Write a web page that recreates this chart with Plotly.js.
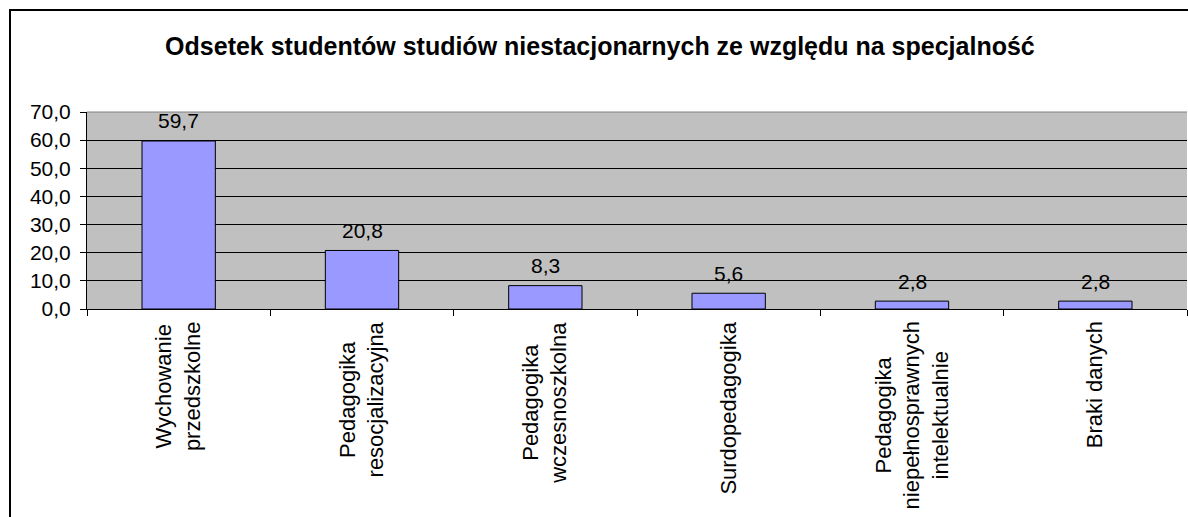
<!DOCTYPE html>
<html>
<head>
<meta charset="utf-8">
<script src="https://cdn.plot.ly/plotly-3.0.1.min.js"></script>
<style>html,body{margin:0;padding:0;background:#fff;}#chart{width:1188px;height:517px;}</style>
</head>
<body>
<div id="chart"></div>
<script>
const categories = ["Wychowanie przedszkolne", "Pedagogika resocjalizacyjna", "Pedagogika wczesnoszkolna", "Surdopedagogika", "Pedagogika niepełnosprawnych intelektualnie", "Braki danych"];
const labelLines = ["Wychowanie<br>przedszkolne", "Pedagogika<br>resocjalizacyjna", "Pedagogika<br>wczesnoszkolna", "Surdopedagogika", "Pedagogika<br>niepełnosprawnych<br>intelektualnie", "Braki danych"];
const values = [59.7, 20.8, 8.3, 5.6, 2.8, 2.8];
const yTicks = [0, 10, 20, 30, 40, 50, 60, 70];
const titleText = "Odsetek studentów studiów niestacjonarnych ze względu na specjalność";

const fmt = v => v.toFixed(1).replace('.', ',');
const FONT = 'Arial, "Liberation Sans", sans-serif';

const annotations = [];
categories.forEach((c, i) => {
  annotations.push({
    x: c, y: values[i], xref: 'x', yref: 'y',
    text: fmt(values[i]), showarrow: false,
    yanchor: 'middle', yshift: 20,
    font: {family: FONT, size: 21, color: '#000'}
  });
  annotations.push({
    x: c, y: -0.053, xref: 'x', yref: 'paper',
    text: labelLines[i], showarrow: false, textangle: -90,
    xanchor: 'center', yanchor: 'top', align: 'center',
    font: {family: FONT, size: 22, color: '#000'}
  });
});

const data = [{
  type: 'bar', x: categories, y: values,
  marker: {color: '#9999FF', line: {color: '#000', width: 1}},
  hoverinfo: 'none'
}];

const layout = {
  width: 1188, height: 517,
  margin: {l: 87, r: 1, t: 112, b: 208, pad: 0},
  paper_bgcolor: '#fff', plot_bgcolor: '#C0C0C0',
  separators: ',.',
  bargap: 0.6,
  showlegend: false,
  title: {text: '<b>' + titleText + '</b>', x: 0.505, xref: 'container', y: 0.91, yref: 'container', yanchor: 'middle',
          font: {family: FONT, size: 25, color: '#000'}},
  xaxis: {type: 'category', showticklabels: false, ticks: 'outside', tickson: 'boundaries', ticklen: 6, tickcolor: '#000',
          showline: true, linecolor: '#000', linewidth: 1, showgrid: false, zeroline: false, fixedrange: true},
  yaxis: {range: [0, 70], tickvals: yTicks, ticktext: yTicks.map(fmt), ticks: 'outside', ticklen: 6, tickcolor: '#000',
          ticklabelstandoff: 5,
          showline: true, linecolor: '#000', linewidth: 1, showgrid: true, gridcolor: '#000', gridwidth: 1,
          zeroline: false, tickfont: {family: FONT, size: 21, color: '#000'}, fixedrange: true},
  annotations: annotations,
  shapes: [
    {type: 'line', xref: 'paper', yref: 'paper', x0: 0, x1: 1, y0: 1, y1: 1, line: {color: '#808080', width: 1}},
    {type: 'rect', xref: 'paper', yref: 'paper', x0: -0.07, x1: 1.2, y0: -1.3, y1: 1.5178, line: {color: '#000', width: 2}, fillcolor: 'rgba(0,0,0,0)'}
  ]
};

Plotly.newPlot('chart', data, layout, {staticPlot: true, displayModeBar: false});
</script>
</body>
</html>
